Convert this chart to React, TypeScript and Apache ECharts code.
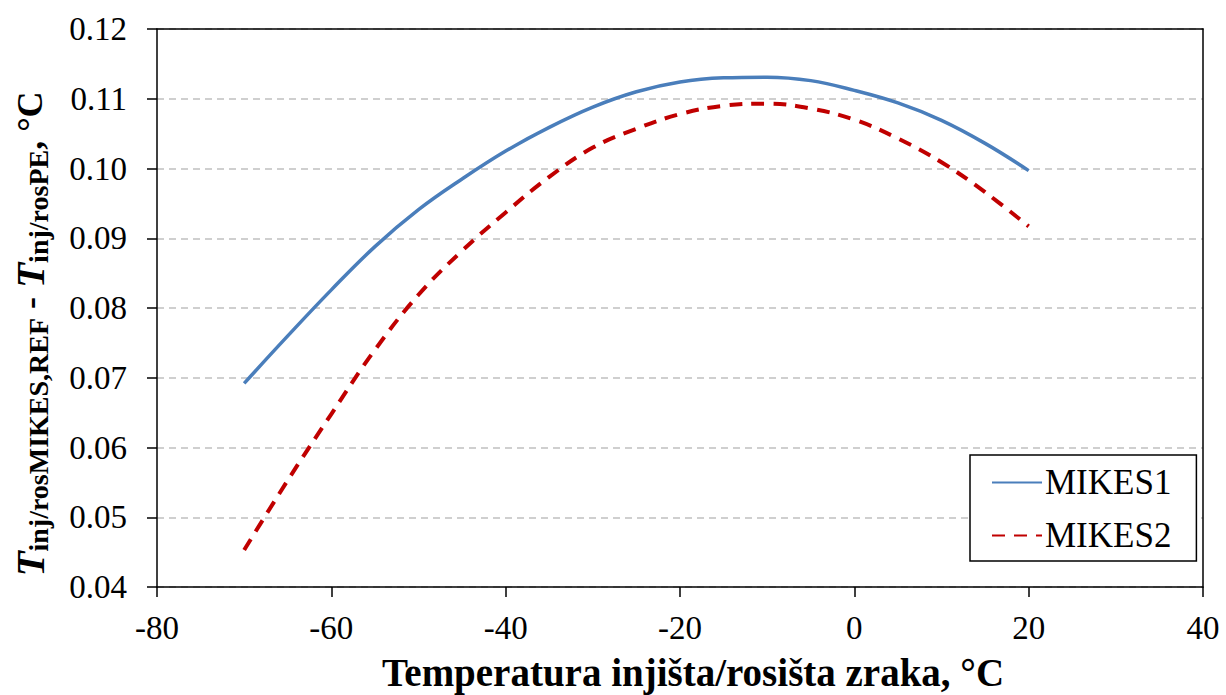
import React, { useEffect, useRef } from "react";
import * as echarts from "echarts";

const temps = [-70, -65, -60, -55, -50, -45, -40, -35, -30, -25, -20, -15, -10, -5, 0, 5, 10, 15, 20];
const mikes1 = [0.0692, 0.0760, 0.0826, 0.0888, 0.0941, 0.0985, 0.1025, 0.1059, 0.1088, 0.1110, 0.1124, 0.1130, 0.1131, 0.1126, 0.1112, 0.1094, 0.1069, 0.1036, 0.0997];
const mikes2 = [0.0453, 0.0553, 0.0648, 0.0740, 0.0819, 0.0882, 0.0937, 0.0988, 0.1030, 0.1057, 0.1078, 0.1090, 0.1093, 0.1086, 0.1070, 0.1043, 0.1009, 0.0966, 0.0917];
const seriesNames = ["MIKES1", "MIKES2"];
const xTitle = "Temperatura injišta/rosišta zraka, °C";

const FONT = "Liberation Serif";

export default function App() {
  const ref = useRef<HTMLDivElement>(null);
  useEffect(() => {
    if (!ref.current) return;
    const chart = echarts.init(ref.current, null, { renderer: "svg" });
    const pairs = (vals: number[]) => temps.map((t, i) => [t, vals[i]]);
    const frameAxis = {
      type: "value",
      axisLine: { show: true, onZero: false, lineStyle: { color: "#000", width: 1.5 } },
      axisTick: { show: false },
      axisLabel: { show: false },
      splitLine: { show: false },
    };
    const labelStyle = { fontSize: 33, fontFamily: FONT, fontWeight: "normal", fontStyle: "normal", color: "#000" };
    chart.setOption({
      animation: false,
      backgroundColor: "#fff",
      textStyle: { fontFamily: FONT },
      grid: {
        left: 157,
        right: 23,
        top: 29,
        bottom: 108,
      },
      xAxis: [
        {
          type: "value",
          min: -80,
          max: 40,
          interval: 20,
          axisLine: { show: true, onZero: false, lineStyle: { color: "#000", width: 1.5 } },
          axisTick: { show: true, inside: false, length: 10, lineStyle: { color: "#000", width: 1.5 } },
          axisLabel: { ...labelStyle, margin: 24 },
          splitLine: { show: false },
        },
        { ...frameAxis, position: "top", min: -80, max: 40, interval: 20 },
      ],
      yAxis: [
        {
          type: "value",
          min: 0.04,
          max: 0.12,
          interval: 0.01,
          axisLine: { show: true, onZero: false, lineStyle: { color: "#000", width: 1.5 } },
          axisTick: { show: true, inside: false, length: 10, lineStyle: { color: "#000", width: 1.5 } },
          axisLabel: {
            ...labelStyle,
            margin: 30,
            formatter: (v: number) => v.toFixed(2),
          },
          splitLine: { show: true, lineStyle: { color: "#c0c0c0", width: 1.5, type: [7, 5] } },
        },
        { ...frameAxis, position: "right", min: 0.04, max: 0.12, interval: 0.01 },
      ],
      legend: {
        orient: "vertical",
        left: 970,
        top: 455,
        padding: [10, 25, 8, 21],
        itemGap: 18,
        itemWidth: 50,
        itemHeight: 14,
        borderColor: "#000",
        borderWidth: 1.5,
        borderRadius: 0,
        backgroundColor: "#fff",
        itemStyle: { opacity: 0 },
        textStyle: { ...labelStyle, fontSize: 35, padding: [0, 0, 0, -2] },
        data: seriesNames,
      },
      series: [
        {
          name: seriesNames[0],
          type: "line",
          data: pairs(mikes1),
          smooth: 0.4,
          symbol: "none",
          lineStyle: { color: "#4a7ebb", width: 3.5 },
          itemStyle: { color: "#4a7ebb" },
        },
        {
          name: seriesNames[1],
          type: "line",
          data: pairs(mikes2),
          smooth: 0.4,
          symbol: "none",
          lineStyle: { color: "#c00000", width: 4, type: [13, 9] },
          itemStyle: { color: "#c00000" },
        },
      ],
      graphic: [
        {
          type: "text",
          x: 693,
          y: 672,
          style: {
            text: xTitle,
            fontSize: 39,
            fontWeight: "bold",
            fontFamily: FONT,
            fill: "#000",
            align: "center",
            verticalAlign: "middle",
            textAlign: "center",
            textVerticalAlign: "middle",
          },
        },
        {
          type: "text",
          x: 30,
          y: 334,
          rotation: Math.PI / 2,
          style: {
            text: "{T|T}{s|inj/rosMIKES,REF}{n| - }{T|T}{s|inj/rosPE}{n|, °C}",
            align: "center",
            verticalAlign: "middle",
            textAlign: "center",
            textVerticalAlign: "middle",
            fill: "#000",
            rich: {
              T: { fontSize: 41, fontStyle: "italic", fontWeight: "bold", fontFamily: FONT, lineHeight: 44, fill: "#000" },
              s: { fontSize: 28, fontWeight: "bold", fontFamily: FONT, lineHeight: 28, verticalAlign: "bottom", padding: [14, 0, 0, 0], fill: "#000" },
              n: { fontSize: 36, fontWeight: "bold", fontFamily: FONT, lineHeight: 44, fill: "#000" },
            },
          },
        },
      ],
    });
    return () => chart.dispose();
  }, []);
  return (
    <div
      ref={ref}
      style={{ position: "absolute", left: 0, top: 0, width: 1226, height: 695 }}
    />
  );
}
